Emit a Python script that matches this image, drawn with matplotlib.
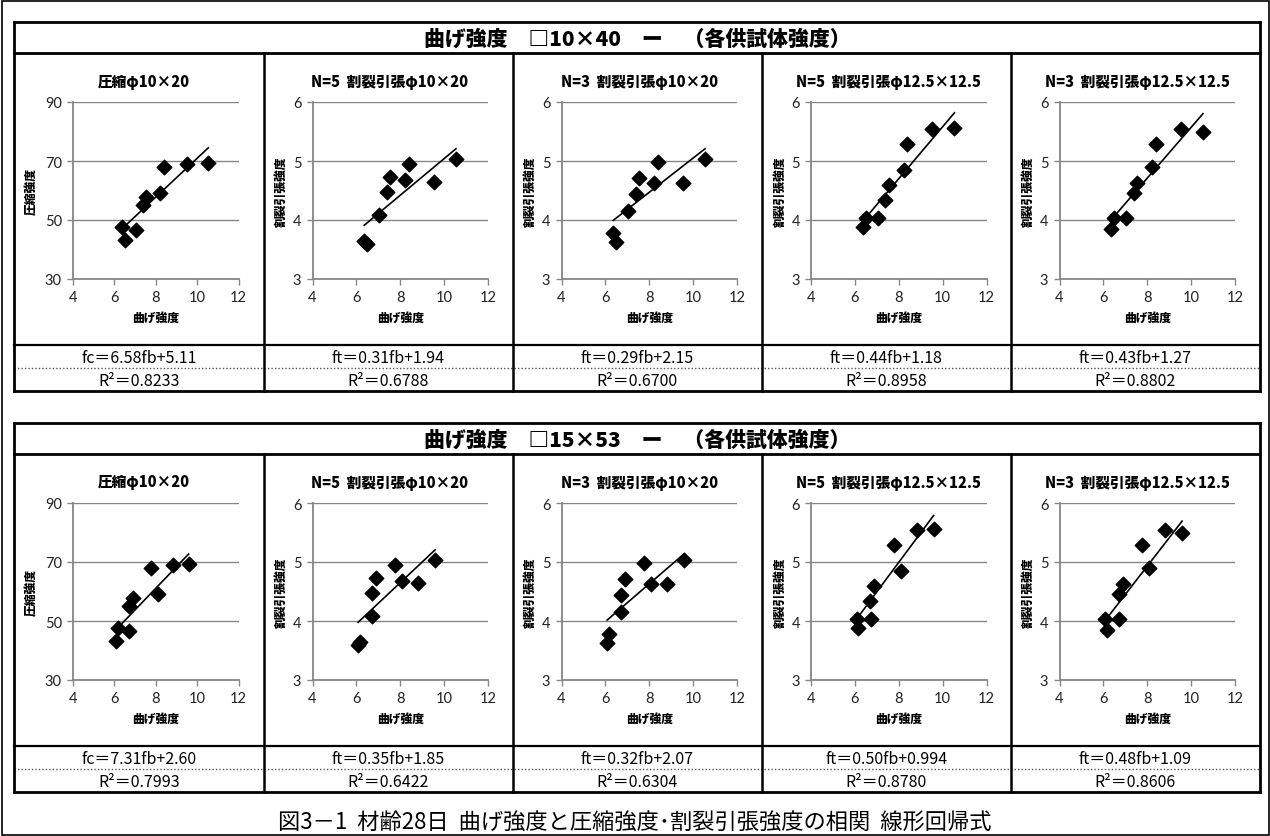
import numpy as np
import matplotlib
matplotlib.use("Agg")
import matplotlib.pyplot as plt
from matplotlib.lines import Line2D

W, H = 1270, 837
JP = ['Noto Sans CJK JP', 'DejaVu Sans']
NUM = ['Lato', 'DejaVu Sans']
EQ = ['Liberation Sans Narrow', 'Noto Sans CJK JP', 'DejaVu Sans']

# flexural strength of each specimen, per beam size
fb_40 = [6.36, 6.49, 7.04, 7.38, 7.54, 8.22, 8.38, 9.52, 10.54]
fb_53 = [6.16, 6.08, 6.73, 6.70, 6.89, 8.09, 7.78, 8.82, 9.59]

# compressive / splitting tensile strength of the same specimens
fc = [47.5, 43.3, 46.5, 55.2, 57.8, 59.1, 68.0, 69.1, 69.3]
ft_n5_10 = [3.65, 3.59, 4.09, 4.48, 4.73, 4.68, 4.95, 4.64, 5.04]
ft_n3_10 = [3.78, 3.63, 4.15, 4.44, 4.71, 4.63, 4.98, 4.63, 5.03]
ft_n5_125 = [3.88, 4.04, 4.04, 4.34, 4.60, 4.84, 5.28, 5.54, 5.56]
ft_n3_125 = [3.85, 4.03, 4.03, 4.45, 4.62, 4.90, 5.28, 5.55, 5.50]

panel_titles = ['圧縮φ10×20', 'N=5  割裂引張φ10×20', 'N=3  割裂引張φ10×20',
                'N=5  割裂引張φ12.5×12.5', 'N=3  割裂引張φ12.5×12.5']
ylabels = ['圧縮強度', '割裂引張強度', '割裂引張強度', '割裂引張強度', '割裂引張強度']

# trend lines (slope, intercept) as given in the tables
slope_40 = [6.58, 0.31, 0.29, 0.44, 0.43]
icpt_40 = [5.11, 1.94, 2.15, 1.18, 1.27]
slope_53 = [7.31, 0.35, 0.32, 0.50, 0.48]
icpt_53 = [2.60, 1.85, 2.07, 0.994, 1.09]

eq_40 = ['fc＝6.58fb+5.11', 'ft＝0.31fb+1.94', 'ft＝0.29fb+2.15', 'ft＝0.44fb+1.18', 'ft＝0.43fb+1.27']
eq_53 = ['fc＝7.31fb+2.60', 'ft＝0.35fb+1.85', 'ft＝0.32fb+2.07', 'ft＝0.50fb+0.994', 'ft＝0.48fb+1.09']
r2_40 = ['0.8233', '0.6788', '0.6700', '0.8958', '0.8802']
r2_53 = ['0.7993', '0.6422', '0.6304', '0.8780', '0.8606']

tables = [
    ('曲げ強度　□10×40　ー　（各供試体強度）', fb_40, slope_40, icpt_40, eq_40, r2_40, 23),
    ('曲げ強度　□15×53　ー　（各供試体強度）', fb_53, slope_53, icpt_53, eq_53, r2_53, 424),
]
yvals = [fc, ft_n5_10, ft_n3_10, ft_n5_125, ft_n3_125]
caption = '図3－1  材齢28日  曲げ強度と圧縮強度･割裂引張強度の相関  線形回帰式'

cols = [14, 263.5, 512.5, 762, 1010.5, 1260]
GRID = '#868686'

fig = plt.figure(figsize=(W / 100, H / 100), dpi=100)
bg = fig.add_axes([0, 0, 1, 1])
bg.set_xlim(0, W)
bg.set_ylim(H, 0)
bg.axis('off')


def hline(y, x0, x1, lw=2.0, **kw):
    bg.add_line(Line2D([x0, x1], [y, y], color='black', lw=lw, **kw))


def vline(x, y0, y1, lw=2.0):
    bg.add_line(Line2D([x, x], [y0, y1], color='black', lw=lw))


def px_rect(l, t, r, b):
    return [l / W, 1 - b / H, (r - l) / W, (b - t) / H]


# outer frame
bg.add_patch(plt.Rectangle((1.5, 1.5), W - 3, H - 3, fill=False, lw=1.2, ec='black'))

for title, fb, slopes, icpts, eqs, r2s, top in tables:
    t_line = top + 31
    ax_top = t_line + 49
    ax_bot = ax_top + 177
    eq_line = ax_bot + 66
    dot_line = eq_line + 23
    bottom = dot_line + 23

    hline(top, cols[0], cols[-1])
    hline(t_line, cols[0], cols[-1])
    hline(eq_line, cols[0], cols[-1], lw=1.6)
    bg.add_line(Line2D([cols[0], cols[-1]], [dot_line, dot_line], color='#555555',
                       lw=1.0, ls=(0, (1, 1.5))))
    hline(bottom, cols[0], cols[-1])
    vline(cols[0], top, bottom)
    vline(cols[-1], top, bottom)
    for c in cols[1:-1]:
        vline(c, t_line, bottom, lw=1.8)
    bg.text((cols[0] + cols[-1]) / 2, (top + t_line) / 2 + 1, title, family=JP,
            fontsize=15, fontweight='black', ha='center', va='center')

    for i in range(5):
        c0, c1 = cols[i], cols[i + 1]
        cx = (c0 + c1) / 2
        left = c0 + (59 if i == 0 else 49)
        ax = fig.add_axes(px_rect(left, ax_top, c0 + 224.5, ax_bot))
        ax.scatter(fb, yvals[i], marker='D', s=55, color='black', zorder=3, clip_on=False)
        xs = np.array([min(fb), max(fb)])
        ax.plot(xs, slopes[i] * xs + icpts[i], color='black', lw=1.2, zorder=2)
        ax.set_xlim(4, 12)
        ax.set_xticks([4, 6, 8, 10, 12])
        if i == 0:
            ax.set_ylim(30, 90)
            ax.set_yticks([30, 50, 70, 90])
        else:
            ax.set_ylim(3, 6)
            ax.set_yticks([3, 4, 5, 6])
        ax.grid(axis='y', color=GRID, lw=1.0)
        ax.set_axisbelow(True)
        for s in ['top', 'right']:
            ax.spines[s].set_visible(False)
        for s in ['left', 'bottom']:
            ax.spines[s].set_color(GRID)
            ax.spines[s].set_linewidth(1.3)
        ax.tick_params(colors=GRID, length=4, width=1, labelcolor='#222222', labelsize=10.5, pad=4)
        for lab in ax.get_xticklabels() + ax.get_yticklabels():
            lab.set_family(NUM)
        ax.set_xlabel('曲げ強度', family=JP, fontsize=8.5, fontweight='black', labelpad=5)
        bg.text(c0 + 17, (ax_top + ax_bot) / 2, ylabels[i], family=JP, fontsize=8.5,
                fontweight='black', rotation=90, ha='center', va='center')
        bg.text(cx + (5 if i == 0 else 2), ax_top - 21, panel_titles[i], family=JP, fontsize=10.5,
                fontweight='black', ha='center', va='center')
        bg.text(cx, (eq_line + dot_line) / 2 + 1, eqs[i], family=EQ, fontsize=11.5,
                ha='center', va='center')
        bg.text(cx, (dot_line + bottom) / 2 + 1, 'R²＝' + r2s[i], family=EQ, fontsize=11.5,
                ha='center', va='center')

bg.text(W / 2, 822, caption, family=JP, fontsize=16, ha='center', va='center')

fig.savefig('out.png', dpi=100)
